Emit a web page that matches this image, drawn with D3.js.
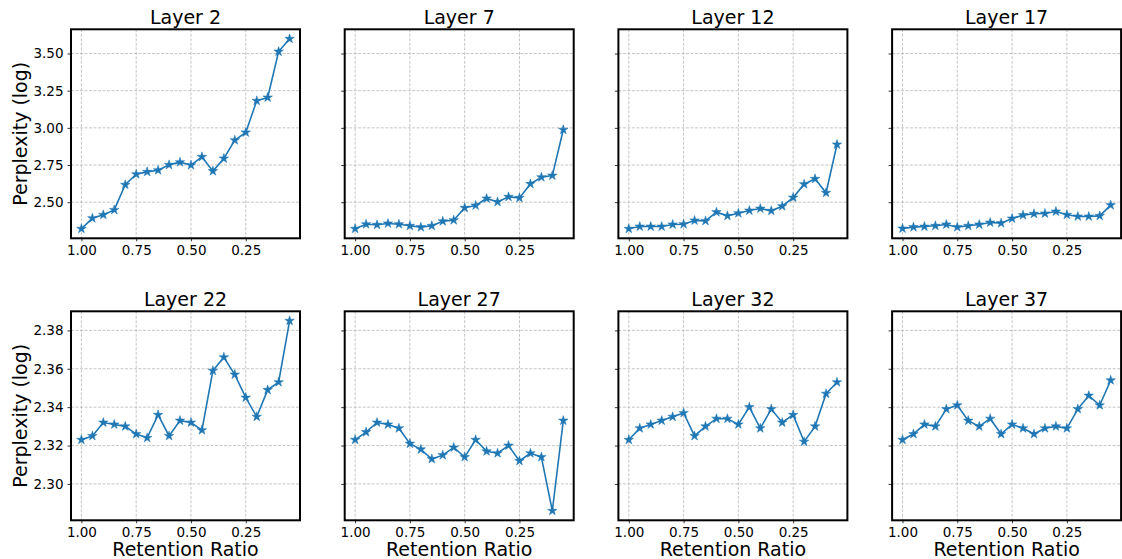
<!DOCTYPE html>
<html>
<head>
<meta charset="utf-8">
<script src="https://cdn.jsdelivr.net/npm/d3@7"></script>
<style>
  body { margin: 0; background: #fff; }
  svg { display: block; font-family: "DejaVu Sans", sans-serif; }
</style>
</head>
<body>
<svg id="chart"></svg>
<script>
// ---- data -------------------------------------------------------------
const ratios = [1.00, 0.95, 0.90, 0.85, 0.80, 0.75, 0.70, 0.65, 0.60, 0.55,
                0.50, 0.45, 0.40, 0.35, 0.30, 0.25, 0.20, 0.15, 0.10, 0.05];
const xTicks = [1.00, 0.75, 0.50, 0.25];

const layer2  = [2.321, 2.392, 2.415, 2.448, 2.617, 2.688, 2.704, 2.715, 2.751, 2.769,
                 2.749, 2.805, 2.709, 2.794, 2.917, 2.969, 3.182, 3.204, 3.513, 3.599];
const layer7  = [2.321, 2.352, 2.348, 2.357, 2.352, 2.341, 2.332, 2.341, 2.372, 2.379,
                 2.462, 2.478, 2.525, 2.502, 2.536, 2.529, 2.623, 2.668, 2.679, 2.987];
const layer12 = [2.321, 2.336, 2.336, 2.336, 2.350, 2.352, 2.377, 2.374, 2.433, 2.408,
                 2.426, 2.444, 2.457, 2.442, 2.473, 2.531, 2.621, 2.657, 2.563, 2.888];
const layer17 = [2.323, 2.332, 2.336, 2.341, 2.350, 2.332, 2.341, 2.350, 2.363, 2.359,
                 2.390, 2.413, 2.422, 2.424, 2.437, 2.415, 2.404, 2.404, 2.408, 2.480];
const layer22 = [2.323, 2.325, 2.332, 2.331, 2.330, 2.326, 2.324, 2.336, 2.325, 2.333,
                 2.332, 2.328, 2.359, 2.366, 2.357, 2.345, 2.335, 2.349, 2.353, 2.385];
const layer27 = [2.323, 2.327, 2.332, 2.331, 2.329, 2.321, 2.318, 2.313, 2.315, 2.319,
                 2.314, 2.323, 2.317, 2.316, 2.320, 2.312, 2.316, 2.314, 2.286, 2.333];
const layer32 = [2.323, 2.329, 2.331, 2.333, 2.335, 2.337, 2.325, 2.330, 2.334, 2.334,
                 2.331, 2.340, 2.329, 2.339, 2.332, 2.336, 2.322, 2.330, 2.347, 2.353];
const layer37 = [2.323, 2.326, 2.331, 2.330, 2.339, 2.341, 2.333, 2.330, 2.334, 2.326,
                 2.331, 2.329, 2.326, 2.329, 2.330, 2.329, 2.339, 2.346, 2.341, 2.354];

const titles = ["Layer 2", "Layer 7", "Layer 12", "Layer 17",
                "Layer 22", "Layer 27", "Layer 32", "Layer 37"];
const rows = [[layer2, layer7, layer12, layer17], [layer22, layer27, layer32, layer37]];
const yTicksTop = [2.50, 2.75, 3.00, 3.25, 3.50];
const yTicksBottom = [2.30, 2.32, 2.34, 2.36, 2.38];

// ---- layout -----------------------------------------------------------
const W = 1122, H = 559;
const panelW = 229, panelH = 209;
const panelLeft = i => 71 + i * 273.7;
const rowTop = [29.3, 311.3];
const color = "#1f77b4";

const svg = d3.select("#chart").attr("width", W).attr("height", H);

// matplotlib-style 5% padding on a shared extent
function padded(ext) {
  const m = (ext[1] - ext[0]) * 0.05;
  return [ext[0] - m, ext[1] + m];
}

const xDomain = padded(d3.extent(ratios)).reverse();

rows.forEach((series, r) => {
  const yDomain = padded(d3.extent(series.flat()));
  const yTicks = r === 0 ? yTicksTop : yTicksBottom;

  series.forEach((values, c) => {
    const x0 = panelLeft(c), y0 = rowTop[r];
    const x = d3.scaleLinear().domain(xDomain).range([0, panelW]);
    const y = d3.scaleLinear().domain(yDomain).range([panelH, 0]);

    const g = svg.append("g").attr("transform", `translate(${x0},${y0})`);

    // grid
    g.append("g").selectAll("line").data(xTicks).join("line")
      .attr("x1", d => x(d)).attr("x2", d => x(d))
      .attr("y1", 0).attr("y2", panelH)
      .attr("stroke", "#b8b8b8").attr("stroke-width", 0.8)
      .attr("stroke-dasharray", "3,1.5");
    g.append("g").selectAll("line").data(yTicks).join("line")
      .attr("x1", 0).attr("x2", panelW)
      .attr("y1", d => y(d)).attr("y2", d => y(d))
      .attr("stroke", "#b8b8b8").attr("stroke-width", 0.8)
      .attr("stroke-dasharray", "3,1.5");

    // axes
    const xAxis = g.append("g").attr("transform", `translate(0,${panelH})`)
      .call(d3.axisBottom(x).tickValues(xTicks).tickFormat(d3.format(".2f"))
        .tickSize(3).tickPadding(4));
    const yAxis = g.append("g")
      .call(d3.axisLeft(y).tickValues(yTicks).tickFormat(c === 0 ? d3.format(".2f") : "")
        .tickSize(3.5).tickPadding(4));
    [xAxis, yAxis].forEach(a => {
      a.select(".domain").remove();
      a.selectAll("text").attr("font-size", 13.5).attr("fill", "#000")
        .attr("font-family", "DejaVu Sans, sans-serif");
      a.selectAll("line").attr("stroke", "#000").attr("stroke-width", 0.8);
    });

    // line + star markers
    const pts = ratios.map((rv, i) => [rv, values[i]]);
    g.append("path").datum(pts)
      .attr("fill", "none").attr("stroke", color).attr("stroke-width", 1.6)
      .attr("d", d3.line().x(d => x(d[0])).y(d => y(d[1])));
    g.append("g").selectAll("path").data(pts).join("path")
      .attr("transform", d => `translate(${x(d[0])},${y(d[1])})`)
      .attr("d", d3.symbol().type(d3.symbolStar).size(28)())
      .attr("fill", color).attr("stroke", color).attr("stroke-width", 0.5);

    // frame
    g.append("rect").attr("width", panelW).attr("height", panelH)
      .attr("fill", "none").attr("stroke", "#000").attr("stroke-width", 2);

    // title
    g.append("text").attr("x", panelW / 2).attr("y", -5)
      .attr("text-anchor", "middle").attr("font-size", 19)
      .text(titles[r * 4 + c]);

    if (c === 0) {
      g.append("text")
        .attr("transform", `translate(${20 - x0},${panelH / 2}) rotate(-90)`)
        .attr("text-anchor", "middle").attr("dy", "0.35em").attr("font-size", 19)
        .text("Perplexity (log)");
    }
    if (r === 1) {
      g.append("text").attr("x", panelW / 2).attr("y", panelH + 36)
        .attr("text-anchor", "middle").attr("font-size", 19)
        .text("Retention Ratio");
    }
  });
});
</script>
</body>
</html>
